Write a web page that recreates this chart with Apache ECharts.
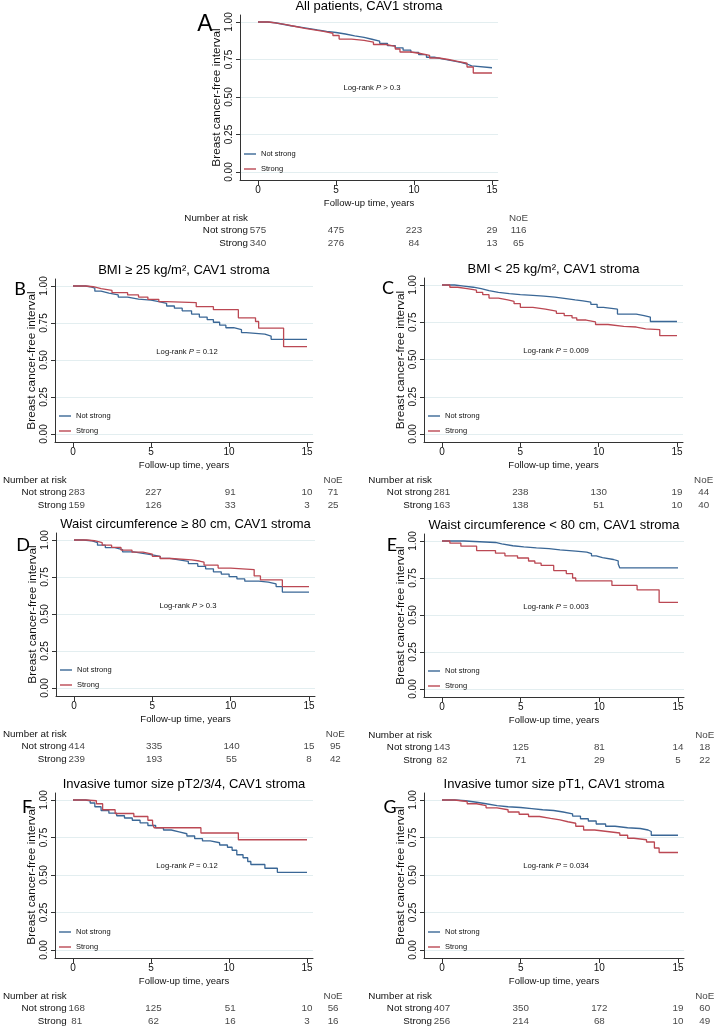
<!DOCTYPE html>
<html>
<head>
<meta charset="utf-8">
<script src="https://cdn.jsdelivr.net/npm/echarts@6/dist/echarts.min.js"></script>
<style>
html,body{margin:0;padding:0;background:#fff;}
#c{width:714px;height:1027px;}
</style>
</head>
<body>
<div id="c"></div>
<script>
// ---------- data ----------
const xTickValues = [0, 5, 10, 15];
const yTickValues = [0, 0.25, 0.5, 0.75, 1];
const groupNames = ['Not strong', 'Strong'];
const riskRows = ['Strong', 'Not strong', 'Number at risk'];
const riskTimes = [0, 5, 10, 15];

const A_notStrong = [[0,1],[0.6,0.995],[1.1,0.985],[1.6,0.975],[2.1,0.967],[2.6,0.957],[3.2,0.947],[3.8,0.938],[4.4,0.93],[5.0,0.92],[5.6,0.908],[6.2,0.897],[6.8,0.885],[7.3,0.872],[7.8,0.858],[8.3,0.843],[8.8,0.828],[9.3,0.812],[9.8,0.797],[10.3,0.782],[10.8,0.765],[11.3,0.752],[11.9,0.741],[12.5,0.731],[13.0,0.72],[13.4,0.708],[13.7,0.695],[15,0.695]];
const A_strong = [[0,1],[0.7,0.992],[1.2,0.982],[1.8,0.97],[2.4,0.958],[3.0,0.947],[3.6,0.937],[4.2,0.925],[4.8,0.91],[5.2,0.886],[6.0,0.877],[6.8,0.866],[7.4,0.85],[8.2,0.838],[8.8,0.82],[9.1,0.8],[9.8,0.79],[10.4,0.778],[11.0,0.76],[11.6,0.75],[12.2,0.738],[12.8,0.725],[13.4,0.7],[13.8,0.66],[15,0.66]];
const B_notStrong = [[0,1],[0.8,0.995],[1.1,0.985],[1.4,0.965],[1.8,0.952],[2.3,0.94],[2.9,0.925],[3.5,0.912],[4.2,0.905],[5.0,0.895],[5.5,0.883],[6.0,0.865],[6.5,0.85],[7.0,0.832],[7.6,0.81],[8.1,0.79],[8.6,0.773],[9.0,0.755],[9.4,0.735],[9.8,0.718],[10.3,0.705],[10.8,0.685],[11.1,0.675],[12.3,0.662],[12.7,0.64],[15,0.64]];
const B_strong = [[0,1],[0.8,0.995],[1.3,0.982],[1.8,0.97],[2.5,0.955],[3.5,0.94],[4.2,0.925],[4.8,0.91],[5.5,0.895],[6.0,0.888],[7.9,0.86],[9.0,0.84],[10.6,0.785],[11.7,0.76],[11.9,0.715],[13.5,0.59],[15,0.59]];
const C_notStrong = [[0,1],[0.8,0.993],[1.4,0.985],[2.0,0.975],[2.5,0.962],[3.0,0.95],[3.6,0.942],[4.3,0.936],[5.0,0.93],[5.8,0.925],[6.5,0.918],[7.2,0.91],[7.8,0.9],[8.5,0.893],[9.0,0.885],[9.5,0.87],[9.9,0.85],[10.3,0.838],[11.2,0.805],[12.4,0.795],[12.9,0.785],[13.3,0.755],[15,0.752]];
const C_strong = [[0,1],[0.5,0.985],[1.0,0.975],[1.6,0.965],[2.2,0.95],[2.6,0.935],[3.0,0.912],[3.6,0.9],[4.2,0.89],[4.6,0.875],[5.0,0.85],[5.8,0.838],[6.6,0.825],[7.3,0.81],[7.8,0.795],[8.3,0.78],[8.6,0.765],[9.2,0.752],[9.8,0.735],[10.6,0.722],[11.6,0.718],[12.4,0.705],[13.0,0.7],[13.9,0.66],[15,0.66]];
const D_notStrong = [[0,1],[0.6,0.995],[1.1,0.982],[1.5,0.965],[2.0,0.948],[2.6,0.935],[3.1,0.92],[3.8,0.908],[4.5,0.9],[5.0,0.89],[5.5,0.876],[6.1,0.866],[6.7,0.855],[7.3,0.84],[7.9,0.822],[8.4,0.805],[8.9,0.785],[9.4,0.77],[9.9,0.752],[10.4,0.737],[10.9,0.722],[11.8,0.716],[12.4,0.703],[12.9,0.685],[13.3,0.648],[15,0.648]];
const D_strong = [[0,1],[0.8,0.995],[1.3,0.982],[1.8,0.965],[2.4,0.95],[3.0,0.932],[3.7,0.918],[4.4,0.905],[5.0,0.89],[5.5,0.875],[6.2,0.866],[7.5,0.858],[8.0,0.85],[8.3,0.83],[9.2,0.81],[10.0,0.8],[11.5,0.757],[11.9,0.73],[13.3,0.685],[15,0.685]];
const E_notStrong = [[0,1],[1.4,0.99],[3.4,0.98],[3.8,0.968],[4.5,0.96],[5.2,0.953],[6.0,0.948],[6.8,0.94],[7.5,0.932],[8.5,0.925],[9.2,0.915],[9.5,0.9],[9.8,0.888],[10.2,0.875],[10.9,0.865],[11.2,0.845],[11.3,0.818],[15,0.818]];
const E_strong = [[0,1],[0.5,0.985],[1.2,0.965],[2.2,0.935],[3.4,0.918],[4.0,0.9],[4.8,0.885],[5.5,0.865],[5.9,0.85],[6.3,0.835],[7.1,0.8],[7.9,0.78],[8.3,0.75],[8.5,0.73],[10.8,0.7],[12.4,0.67],[13.8,0.585],[15,0.585]];
const F_notStrong = [[0,1],[0.8,0.995],[1.1,0.98],[1.4,0.955],[1.8,0.93],[2.3,0.912],[2.8,0.895],[3.3,0.88],[3.8,0.865],[4.3,0.848],[4.8,0.83],[5.3,0.815],[5.8,0.8],[6.3,0.788],[6.8,0.775],[7.3,0.76],[7.8,0.742],[8.3,0.727],[8.8,0.715],[9.4,0.7],[9.9,0.685],[10.2,0.665],[10.5,0.635],[10.9,0.615],[11.2,0.59],[11.4,0.57],[12.3,0.545],[13.1,0.518],[15,0.518]];
const F_strong = [[0,1],[0.8,0.995],[1.5,0.975],[1.9,0.935],[2.7,0.91],[3.9,0.89],[4.8,0.865],[5.1,0.84],[5.2,0.815],[8.2,0.78],[10.6,0.735],[15,0.735]];
const G_notStrong = [[0,1],[0.8,0.995],[1.5,0.985],[2.2,0.975],[2.8,0.962],[3.5,0.955],[4.2,0.95],[5.0,0.943],[5.7,0.935],[6.4,0.93],[7.1,0.92],[7.7,0.908],[8.3,0.893],[8.8,0.875],[9.3,0.86],[9.8,0.84],[10.4,0.825],[11.0,0.815],[11.8,0.81],[12.6,0.8],[13.1,0.79],[13.3,0.765],[15,0.765]];
const G_strong = [[0,1],[0.8,0.99],[1.6,0.975],[2.2,0.962],[2.8,0.948],[3.5,0.935],[4.2,0.92],[4.9,0.905],[5.5,0.89],[6.2,0.878],[6.9,0.868],[7.5,0.855],[8.0,0.845],[8.5,0.825],[9.0,0.8],[9.7,0.79],[10.5,0.78],[11.3,0.765],[11.8,0.745],[12.2,0.735],[13.0,0.72],[13.5,0.68],[13.8,0.65],[15,0.65]];

const A_riskNotStrong = [575, 475, 223, 29];
const A_riskStrong = [340, 276, 84, 13];
const A_noe = [116, 65];
const B_riskNotStrong = [283, 227, 91, 10];
const B_riskStrong = [159, 126, 33, 3];
const B_noe = [71, 25];
const C_riskNotStrong = [281, 238, 130, 19];
const C_riskStrong = [163, 138, 51, 10];
const C_noe = [44, 40];
const D_riskNotStrong = [414, 335, 140, 15];
const D_riskStrong = [239, 193, 55, 8];
const D_noe = [95, 42];
const E_riskNotStrong = [143, 125, 81, 14];
const E_riskStrong = [82, 71, 29, 5];
const E_noe = [18, 22];
const F_riskNotStrong = [168, 125, 51, 10];
const F_riskStrong = [81, 62, 16, 3];
const F_noe = [56, 16];
const G_riskNotStrong = [407, 350, 172, 19];
const G_riskStrong = [256, 214, 68, 10];
const G_noe = [60, 49];

const panelTitles = ['All patients, CAV1 stroma', 'BMI \u2265 25 kg/m\u00B2, CAV1 stroma', 'BMI < 25 kg/m\u00B2, CAV1 stroma',
  'Waist circumference \u2265 80 cm, CAV1 stroma', 'Waist circumference < 80 cm, CAV1 stroma',
  'Invasive tumor size pT2/3/4, CAV1 stroma', 'Invasive tumor size pT1, CAV1 stroma'];
const panelLetters = ['A', 'B', 'C', 'D', 'E', 'F', 'G'];
const logRankP = ['> 0.3', '= 0.12', '= 0.009', '> 0.3', '= 0.003', '= 0.12', '= 0.034'];
const noeColumnTime = 16.7;

// ---------- layout (pixel geometry of each panel) ----------
const layout = [
  {x0:258, x15:492, y1:22,  y0:172, lx:205, ly:25,  ls:23, lf:'Liberation Sans'},
  {x0:73,  x15:307, y1:286, y0:434, lx:20,  ly:289, ls:18, lf:'Lato'},
  {x0:442, x15:677, y1:285, y0:434, lx:388, ly:288, ls:18, lf:'Lato'},
  {x0:74,  x15:309, y1:540, y0:688, lx:23,  ly:545, ls:18, lf:'Lato'},
  {x0:442, x15:678, y1:541, y0:689, lx:392, ly:545, ls:18, lf:'Lato'},
  {x0:73,  x15:307, y1:800, y0:950, lx:27,  ly:807, ls:18, lf:'Lato'},
  {x0:442, x15:678, y1:800, y0:950, lx:390, ly:807, ls:18, lf:'Lato'}
];
const curves = [[A_notStrong, A_strong],[B_notStrong, B_strong],[C_notStrong, C_strong],[D_notStrong, D_strong],[E_notStrong, E_strong],[F_notStrong, F_strong],[G_notStrong, G_strong]];
const risks = [[A_riskNotStrong, A_riskStrong, A_noe],[B_riskNotStrong, B_riskStrong, B_noe],[C_riskNotStrong, C_riskStrong, C_noe],[D_riskNotStrong, D_riskStrong, D_noe],[E_riskNotStrong, E_riskStrong, E_noe],[F_riskNotStrong, F_riskStrong, F_noe],[G_riskNotStrong, G_riskStrong, G_noe]];

const COLORS = ['#3a6796', '#bb4853'];
const FONT = 'Liberation Sans, Arial, sans-serif';
const TXT = '#111';

const grid = [], xAxis = [], yAxis = [], series = [], legend = [], graphic = [];

layout.forEach((L, i) => {
  const ppy = (L.x15 - L.x0) / 15;
  const ppu = L.y0 - L.y1;
  const padL = 18, padR = 6, padT = 7, padB = 8;
  const axLeft = L.x0 - padL, axBottom = L.y0 + padB;
  // main plot grid
  const gMain = grid.length;
  grid.push({left: axLeft, top: L.y1 - padT, width: (L.x15 + padR) - axLeft, height: axBottom - (L.y1 - padT)});
  xAxis.push({
    gridIndex: gMain, type: 'value', min: -padL / ppy, max: 15 + padR / ppy,
    axisLine: {show: true, onZero: false, lineStyle: {color: '#333', width: 1}},
    axisTick: {show: true, customValues: xTickValues, length: 5, lineStyle: {color: '#333'}},
    axisLabel: {customValues: xTickValues, margin: 5, fontSize: 10, color: TXT, fontFamily: FONT},
    splitLine: {show: false},
    name: 'Follow-up time, years', nameLocation: 'middle', nameGap: 18,
    nameTextStyle: {fontSize: 9.5, color: TXT, fontFamily: FONT}
  });
  yAxis.push({
    gridIndex: gMain, type: 'value', min: -padB / ppu, max: 1 + padT / ppu,
    axisLine: {show: true, onZero: false, lineStyle: {color: '#333', width: 1}},
    axisTick: {show: true, customValues: yTickValues, length: 4, lineStyle: {color: '#333'}},
    axisLabel: {customValues: yTickValues, rotate: 90, margin: 6, fontSize: 10, color: TXT, fontFamily: FONT,
      formatter: v => v.toFixed(2)},
    splitLine: {show: true, lineStyle: {color: '#e3eef0', width: 1}},
    name: 'Breast cancer-free interval', nameLocation: 'middle', nameGap: 16, nameRotate: 90,
    nameTextStyle: {fontSize: 11.8, color: TXT, fontFamily: FONT}
  });
  const axMain = xAxis.length - 1;
  groupNames.forEach((nm, k) => {
    series.push({
      type: 'line', name: nm, xAxisIndex: axMain, yAxisIndex: axMain, data: curves[i][k],
      step: 'end', symbol: 'none', silent: true,
      lineStyle: {color: COLORS[k], width: 1.3}, itemStyle: {color: COLORS[k]}
    });
  });
  // number-at-risk table grid
  const gTab = grid.length;
  grid.push({left: L.x0, top: axBottom + 32, width: L.x15 - L.x0, height: 37});
  xAxis.push({gridIndex: gTab, type: 'value', min: 0, max: 15, show: false});
  yAxis.push({
    gridIndex: gTab, type: 'category', data: riskRows,
    axisLine: {show: false}, axisTick: {show: false}, splitLine: {show: false},
    axisLabel: {interval: 0, margin: 10, fontSize: 9.8, color: TXT, fontFamily: FONT}
  });
  const axTab = xAxis.length - 1;
  const tabData = [];
  riskTimes.forEach((t, j) => {
    tabData.push({value: [t, 'Not strong'], name: String(risks[i][0][j])});
    tabData.push({value: [t, 'Strong'], name: String(risks[i][1][j])});
  });
  tabData.push({value: [noeColumnTime, 'Number at risk'], name: 'NoE'});
  tabData.push({value: [noeColumnTime, 'Not strong'], name: String(risks[i][2][0])});
  tabData.push({value: [noeColumnTime, 'Strong'], name: String(risks[i][2][1])});
  series.push({
    type: 'scatter', xAxisIndex: axTab, yAxisIndex: axTab, data: tabData, symbolSize: 1, clip: false, silent: true,
    itemStyle: {color: 'rgba(0,0,0,0)'},
    label: {show: true, position: 'inside', formatter: '{b}', fontSize: 9.8, color: TXT, fontFamily: FONT}
  });
  // legend inside plot
  legend.push({
    orient: 'vertical', left: axLeft + 4, top: L.y0 - 22.5, itemWidth: 12, itemHeight: 1.4, itemGap: 6,
    icon: 'rect', selectedMode: false, data: groupNames, padding: 0,
    textStyle: {fontSize: 7.5, color: TXT, fontFamily: FONT, lineHeight: 9}
  });
  // panel title
  const cx = (axLeft + L.x15 + padR) / 2;
  graphic.push({type: 'text', x: cx, y: L.y1 - padT - 9, silent: true,
    style: {text: panelTitles[i], align: 'center', verticalAlign: 'middle', fontSize: 13, fill: '#000', fontFamily: FONT}});
  // letter
  graphic.push({type: 'text', x: L.lx, y: L.ly, silent: true,
    style: {text: panelLetters[i], align: 'center', verticalAlign: 'middle', fontSize: L.ls, fill: '#000', fontFamily: L.lf}});
  // log-rank annotation
  graphic.push({type: 'text', x: L.x0 + 114, y: L.y1 + 66, silent: true,
    style: {text: '{n|Log-rank }{i|P}{n| ' + logRankP[i] + '}', align: 'center', verticalAlign: 'middle',
      rich: {n: {fontSize: 7.7, fill: TXT, fontFamily: FONT}, i: {fontSize: 7.7, fill: TXT, fontStyle: 'italic', fontFamily: FONT}}}});
});

const chart = echarts.init(document.getElementById('c'), null, {renderer: 'canvas', width: 714, height: 1027});
chart.setOption({
  backgroundColor: '#ffffff',
  animation: false,
  textStyle: {fontFamily: FONT},
  grid, xAxis, yAxis, series, legend, graphic
});
</script>
</body>
</html>
